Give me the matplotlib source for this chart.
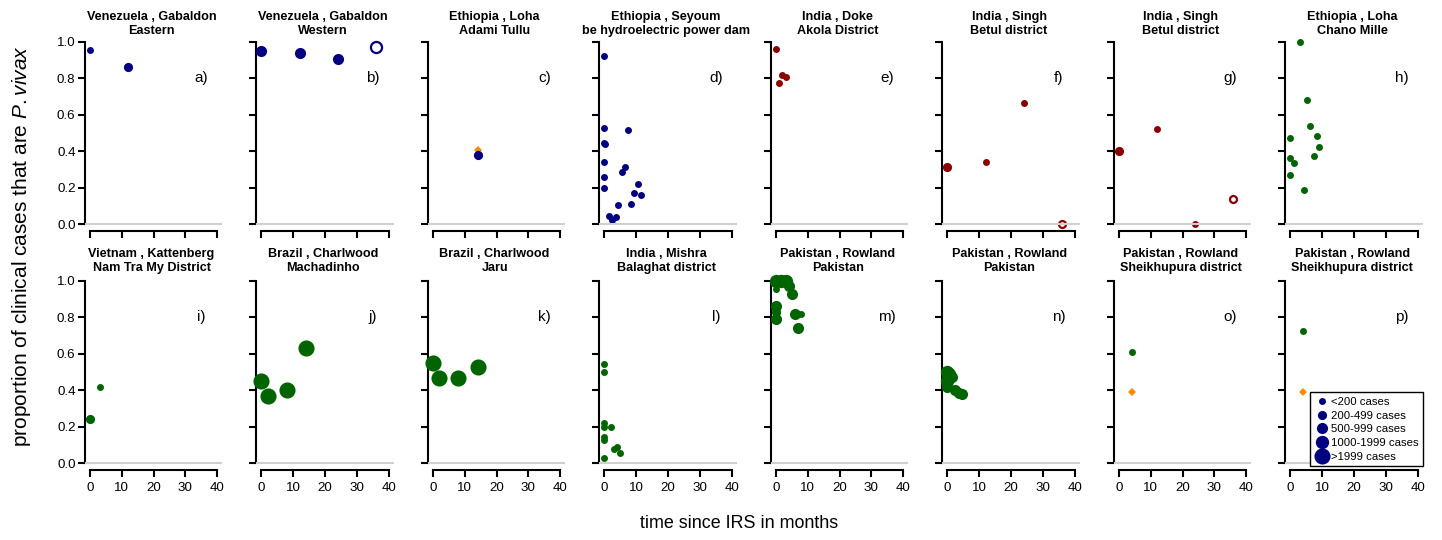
import matplotlib
matplotlib.use('Agg')
import matplotlib.pyplot as plt
from matplotlib.lines import Line2D

plt.rcParams['font.family'] = ['Liberation Sans', 'DejaVu Sans']
plt.rcParams['mathtext.fontset'] = 'custom'
plt.rcParams['mathtext.it'] = 'Liberation Sans:italic'
plt.rcParams['mathtext.rm'] = 'Liberation Sans'

# colours
NAVY = '#000080'
DRED = '#8B0000'
DGREEN = '#006400'
ORANGE = '#FF8C00'

# case-count classes and their marker diameters (pt)
size_labels = ['<200 cases', '200-499 cases', '500-999 cases', '1000-1999 cases', '>1999 cases']
size_pt = [5.0, 6.6, 8.0, 9.6, 11.6]

# panel titles (two lines)
titles = [
    ('Venezuela , Gabaldon', 'Eastern'),
    ('Venezuela , Gabaldon', 'Western'),
    ('Ethiopia , Loha', 'Adami Tullu'),
    ('Ethiopia , Seyoum', 'be hydroelectric power dam'),
    ('India , Doke', 'Akola District'),
    ('India , Singh', 'Betul district'),
    ('India , Singh', 'Betul district'),
    ('Ethiopia , Loha', 'Chano Mille'),
    ('Vietnam , Kattenberg', 'Nam Tra My District'),
    ('Brazil , Charlwood', 'Machadinho'),
    ('Brazil , Charlwood', 'Jaru'),
    ('India , Mishra', 'Balaghat district'),
    ('Pakistan , Rowland', 'Pakistan'),
    ('Pakistan , Rowland', 'Pakistan'),
    ('Pakistan , Rowland', 'Sheikhupura district'),
    ('Pakistan , Rowland', 'Sheikhupura district'),
]
letters = list('abcdefghijklmnop')
colors = [NAVY, NAVY, NAVY, NAVY, DRED, DRED, DRED, DGREEN,
          DGREEN, DGREEN, DGREEN, DGREEN, DGREEN, DGREEN, DGREEN, DGREEN]

# months since IRS, proportion P. vivax, size class
months = [
    [0, 12],
    [0, 12, 24, 36],
    [14],
    [0, 0, 7.5, 0, 0.3, 0, 0, 0, 6.4, 5.4, 10.4, 9.3, 11.5, 8.3, 4.4, 1.4, 3.5, 2.5],
    [0, 2, 3, 1],
    [0, 12, 24, 36],
    [0, 12, 24, 36],
    [3, 5.2, 6.1, 8.2, 0, 9.1, 7.3, 0, 1.1, 0, 4.2],
    [0, 3],
    [0, 2, 8, 14],
    [0, 2, 8, 14],
    [0, 0, 0, 0, 2, 0, 0, 4, 3, 5, 0],
    [0, 1.5, 3, 4, 0, 5, 0, 0, 0, 6, 8, 7],
    [0, 0.5, 1.5, 0, 0, 2.5, 3.5, 4.5],
    [4],
    [4],
]
props = [
    [0.956, 0.861],
    [0.95, 0.941, 0.905, 0.971],
    [0.377],
    [0.923, 0.527, 0.516, 0.443, 0.437, 0.339, 0.257, 0.2, 0.313, 0.288, 0.222, 0.168, 0.157,
     0.108, 0.104, 0.044, 0.037, 0.022],
    [0.96, 0.817, 0.808, 0.777],
    [0.315, 0.339, 0.663, 0.0],
    [0.403, 0.524, 0.0, 0.139],
    [1.0, 0.683, 0.538, 0.482, 0.471, 0.423, 0.374, 0.361, 0.333, 0.271, 0.187],
    [0.24, 0.418],
    [0.452, 0.37, 0.401, 0.63],
    [0.551, 0.469, 0.469, 0.529],
    [0.544, 0.5, 0.222, 0.196, 0.196, 0.145, 0.128, 0.09, 0.075, 0.057, 0.029],
    [1.0, 1.0, 1.0, 0.975, 0.955, 0.93, 0.86, 0.83, 0.79, 0.818, 0.818, 0.74],
    [0.5, 0.49, 0.47, 0.45, 0.42, 0.4, 0.385, 0.38],
    [0.611],
    [0.727],
]
sizes = [
    [0, 1],
    [2, 2, 2, 2],
    [1],
    [0] * 18,
    [0, 0, 0, 0],
    [1, 0, 0, 0],
    [1, 0, 0, 0],
    [0] * 11,
    [1, 0],
    [4, 4, 4, 4],
    [4, 4, 4, 4],
    [0] * 11,
    [3, 3, 3, 2, 0, 2, 2, 1, 2, 2, 0, 2],
    [3, 3, 2, 3, 2, 2, 2, 2],
    [0],
    [0],
]
# open symbols: panel index -> point indices
open_pts = {1: [3], 5: [3], 6: [3]}

# orange reference markers (panel index, month, proportion)
ref_panel = [2, 14, 15]
ref_month = [14, 4, 4]
ref_prop = [0.405, 0.388, 0.39]

W, H = 1442, 540
fig = plt.figure(figsize=(W / 100, H / 100), dpi=100)

x0, dx, pw = 84.9, 171.5, 137.4
row_bottom = [231.3, 470.3]
ph = 196.6

for i in range(16):
    r, c = divmod(i, 8)
    left = x0 + c * dx
    ax = fig.add_axes([left / W, 1 - row_bottom[r] / H, pw / W, ph / H])
    ax.set_xlim(-1.6, 41.6)
    ax.set_ylim(-0.04, 1.04)
    for s in ['top', 'right']:
        ax.spines[s].set_visible(False)
    ax.spines['left'].set_bounds(0, 1)
    ax.spines['bottom'].set_bounds(0, 40)
    for s in ['left', 'bottom']:
        ax.spines[s].set_linewidth(1.5)
    ax.set_xticks([0, 10, 20, 30, 40])
    ax.set_yticks([0, 0.2, 0.4, 0.6, 0.8, 1.0])
    ax.tick_params(direction='out', length=5.2, width=1.5, labelsize=9.6, pad=3.5)
    ax.tick_params(axis='y', pad=1.5)
    if c == 0:
        ax.set_yticklabels(['0.0', '0.2', '0.4', '0.6', '0.8', '1.0'])
    else:
        ax.set_yticklabels([])
    if r == 0:
        ax.set_xticklabels([])

    col = colors[i]
    for j, (t, p, sc) in enumerate(zip(months[i], props[i], sizes[i])):
        is_open = j in open_pts.get(i, [])
        ax.plot(t, p, 'o', ms=size_pt[sc], color=col,
                mfc='white' if is_open else col, mew=1.6 if is_open else 0,
                clip_on=False, zorder=3)
    for k, t, p in zip(ref_panel, ref_month, ref_prop):
        if k == i:
            ax.plot(t, p, 'D', ms=3.6, color=ORANGE, mew=0, zorder=2.5, clip_on=False)

    ax.axhline(0, color='#D0D0D0', lw=1.5, zorder=4)
    ax.text(35, 0.8, letters[i] + ')', fontsize=11, ha='center', va='center')

    xc = (left + pw / 2 - 2) / W
    ytop = 17 if r == 0 else 254
    fig.text(xc, 1 - ytop / H, titles[i][0], ha='center', va='center',
             fontsize=9.1, fontweight='bold')
    fig.text(xc, 1 - (ytop + 14) / H, titles[i][1], ha='center', va='center',
             fontsize=9.1, fontweight='bold')

    if i == 15:
        handles = [Line2D([], [], ls='', marker='o', ms=s, color=NAVY, mew=0)
                   for s in size_pt]
        leg = ax.legend(handles, size_labels, loc='lower right',
                        bbox_to_anchor=(1.0, 0.02), fontsize=8.2, frameon=True,
                        fancybox=False, framealpha=1, edgecolor='black',
                        borderaxespad=0, handletextpad=0.15, labelspacing=0.33,
                        borderpad=0.4, handlelength=1.3)
        leg.get_frame().set_linewidth(1.0)
        leg.set_zorder(10)

fig.text(739 / W, 1 - 523 / H, 'time since IRS in months', ha='center', va='center',
         fontsize=12.9)
fig.text(22 / W, 1 - 246 / H, r'proportion of clinical cases that are $\it{P.vivax}$',
         ha='center', va='center', rotation=90, fontsize=15)

fig.savefig('out.png', dpi=100)
